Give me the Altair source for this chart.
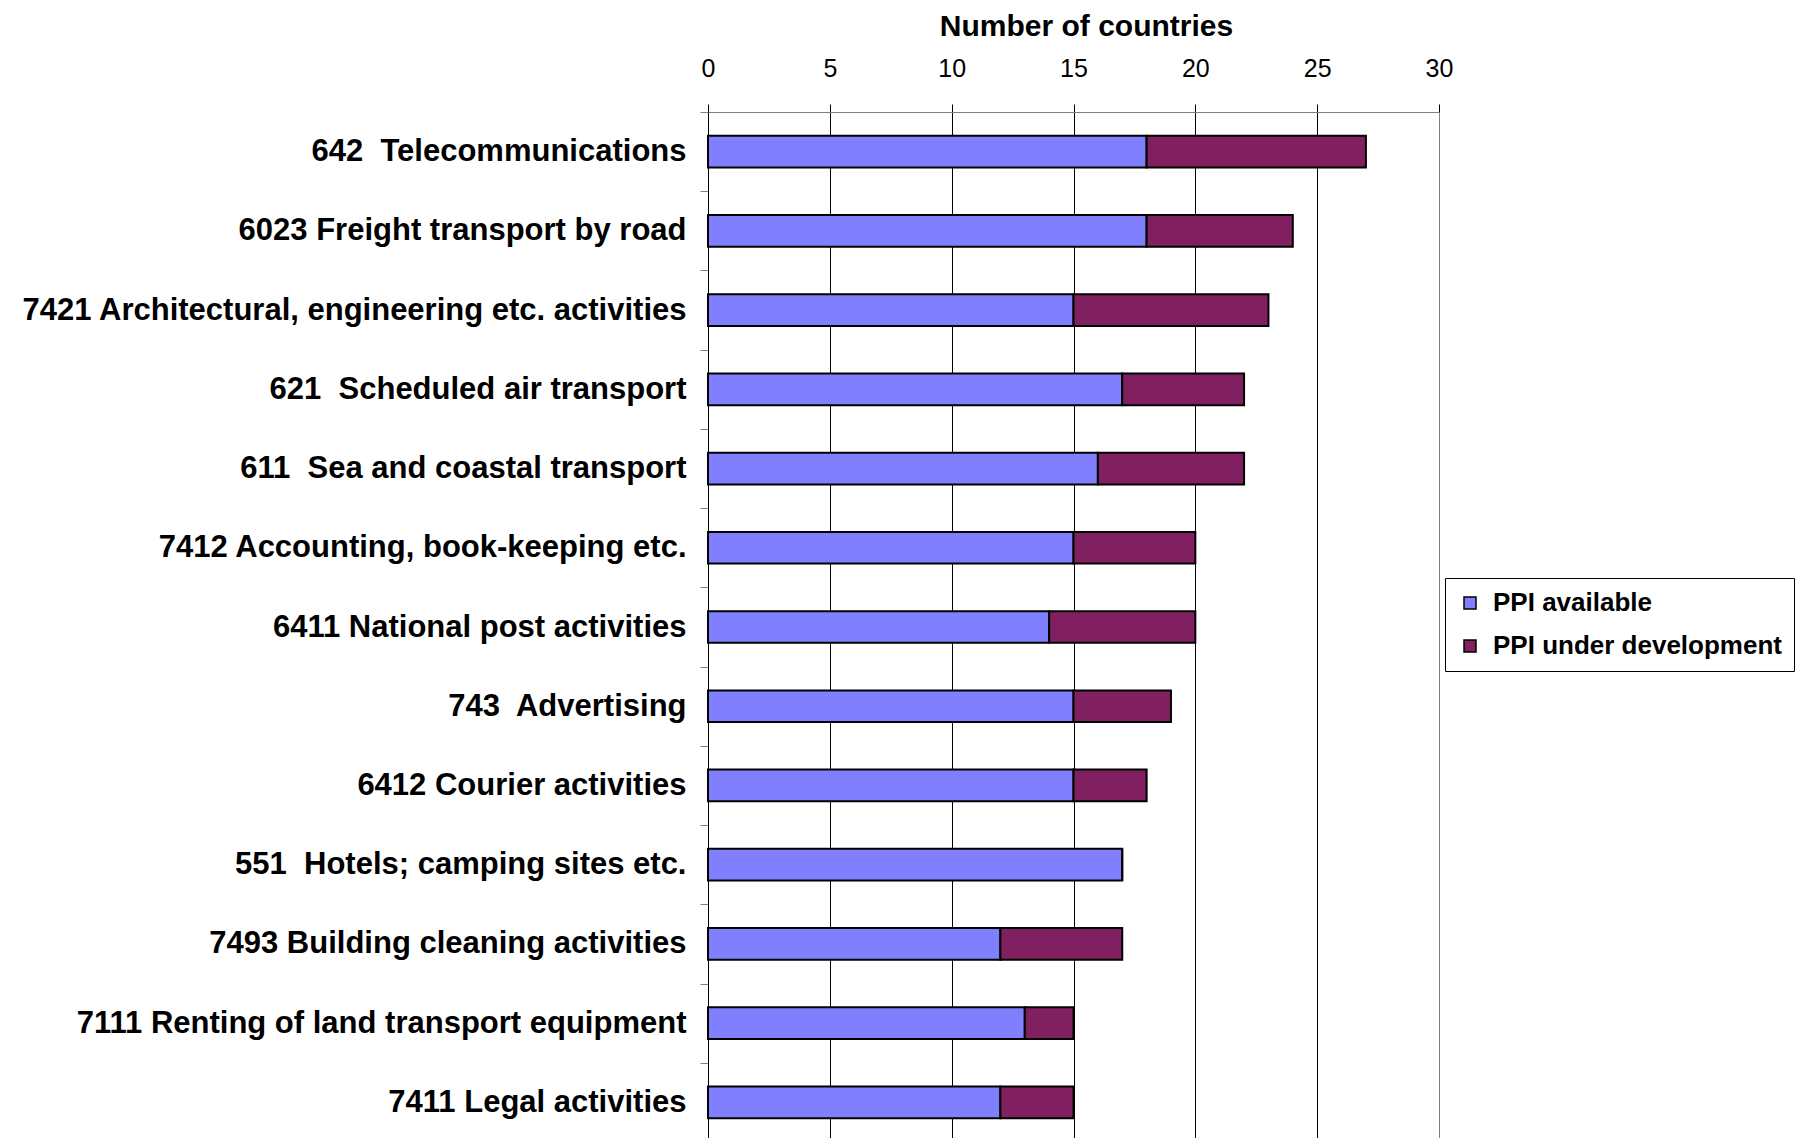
import altair as alt
import pandas as pd

categories = [
    "642\u00a0 Telecommunications",
    "6023 Freight transport by road\u00a0",
    "7421 Architectural, engineering etc. activities",
    "621\u00a0 Scheduled air transport",
    "611\u00a0 Sea and coastal transport",
    "7412 Accounting, book-keeping etc.\u00a0",
    "6411 National post activities",
    "743\u00a0 Advertising\u00a0",
    "6412 Courier activities\u00a0\u00a0",
    "551\u00a0 Hotels; camping sites etc.\u00a0",
    "7493 Building cleaning activities",
    "7111 Renting of land transport equipment",
    "7411 Legal activities",
]
ppi_available = [18, 18, 15, 17, 16, 15, 14, 15, 15, 17, 12, 13, 12]
ppi_under_development = [9, 6, 8, 5, 6, 5, 6, 4, 3, 0, 5, 2, 3]
series_names = ["PPI available", "PPI under development"]
series_colors = ["#8080FF", "#802060"]
x_ticks = [0, 5, 10, 15, 20, 25, 30]

rows = []
for i, c in enumerate(categories):
    rows.append({"category": c, "series": series_names[0], "order": 0, "value": ppi_available[i]})
    rows.append({"category": c, "series": series_names[1], "order": 1, "value": ppi_under_development[i]})
df = pd.DataFrame(rows)

FONT = "Liberation Sans"
step = 79.25
half = step / 2

chart = (
    alt.Chart(df)
    .mark_bar(stroke="black", strokeWidth=2)
    .encode(
        x=alt.X(
            "value:Q",
            stack="zero",
            scale=alt.Scale(domain=[0, 30], nice=False),
            axis=alt.Axis(
                orient="top",
                title="Number of countries",
                titleFont=FONT,
                titleFontSize=30,
                titleFontWeight="bold",
                titleColor="black",
                titlePadding=15.5,
                titleX=378,
                values=x_ticks,
                labelFont=FONT,
                labelFontSize=25,
                labelColor="black",
                labelPadding=22.5,
                labelFlush=False,
                tickSize=8,
                tickColor="black",
                domainColor="#808080",
                grid=True,
                gridColor=alt.condition("datum.value == 30", alt.value("#808080"), alt.value("black")),
                gridWidth=1,
            ),
        ),
        y=alt.Y(
            "category:N",
            sort=categories,
            scale=alt.Scale(paddingInner=0.6, paddingOuter=0.3),
            axis=alt.Axis(
                title=None,
                labelFont=FONT,
                labelFontSize=31,
                labelFontWeight="bold",
                labelColor="black",
                labelPadding=14,
                labelLimit=1000,
                tickSize=8,
                tickColor="#808080",
                tickOffset=-half,
                labelOffset=half,
                domainColor="black",
                grid=False,
                minExtent=700,
                maxExtent=700,
            ),
        ),
        color=alt.Color(
            "series:N",
            scale=alt.Scale(domain=series_names, range=series_colors),
            legend=alt.Legend(
                title=None,
                orient="none",
                legendX=737,
                legendY=466,
                fillColor="white",
                strokeColor="black",
                padding=12,
                symbolType="square",
                symbolSize=144,
                symbolStrokeColor="black",
                symbolStrokeWidth=1.5,
                labelFont=FONT,
                labelFontSize=26,
                labelFontWeight="bold",
                labelColor="black",
                labelOffset=10,
                rowPadding=17,
                labelLimit=1000,
            ),
        ),
        order=alt.Order("order:Q"),
    )
    .properties(
        width=731,
        height=1030,
        padding={"left": 0, "top": 3, "right": 0, "bottom": 0},
    )
    .configure_view(stroke="#808080", strokeWidth=1)
)

chart.save("out.html", embed_options={"renderer": "svg", "actions": False})
